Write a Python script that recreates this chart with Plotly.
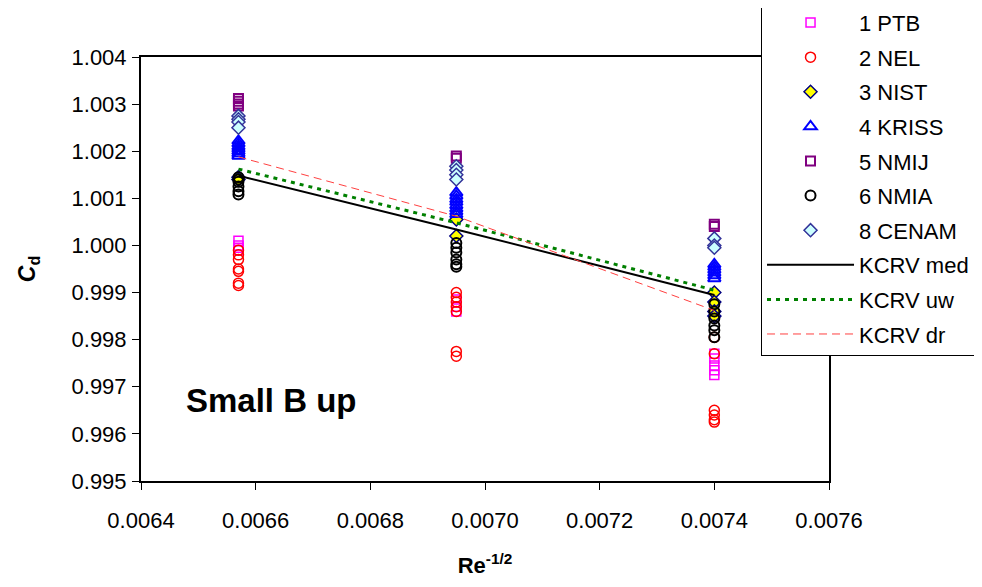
import plotly.graph_objects as go

# x positions (Re^-1/2) of the three flow points
x_pts = [0.00657, 0.00695, 0.00740]

# Cd values read per lab, per flow point
ptb = [[1.00010, 1.00000, 0.99995, 0.99990],
       [0.99885, 0.99870, 0.99860],
       [0.99770, 0.99760, 0.99745, 0.99735, 0.99725]]
nel = [[0.99990, 0.99980, 0.99970, 0.99950, 0.99945, 0.99920, 0.99915],
       [0.99900, 0.99890, 0.99880, 0.99870, 0.99860, 0.99775, 0.99765],
       [0.99805, 0.99770, 0.99650, 0.99640, 0.99630, 0.99625]]
nist = [[1.00145, 1.00140],
        [1.00055, 1.00020],
        [0.99900, 0.99880, 0.99860, 0.99850]]
kriss = [[1.00222, 1.00216, 1.00210, 1.00205, 1.00200, 1.00195, 1.00190],
         [1.00112, 1.00105, 1.00098, 1.00092, 1.00085, 1.00078, 1.00072, 1.00066],
         [0.99960, 0.99954, 0.99948, 0.99942, 0.99936, 0.99930]]
nmij = [[1.00312, 1.00306, 1.00300, 1.00296],
        [1.00190, 1.00185],
        [1.00045, 1.00040]]
nmia = [[1.00145, 1.00140, 1.00135, 1.00125, 1.00115, 1.00108],
        [1.00005, 0.99995, 0.99985, 0.99970, 0.99960, 0.99955],
        [0.99875, 0.99860, 0.99845, 0.99830, 0.99820, 0.99805]]
cenam = [[1.00275, 1.00268, 1.00262, 1.00250],
         [1.00168, 1.00160, 1.00150, 1.00140],
         [1.00015, 1.00000, 0.99995]]

kcrv_med = [1.00148, 1.00034, 0.99895]
kcrv_uw = [1.00162, 1.00048, 0.99905]
kcrv_dr = [1.00188, 1.00062, 0.99862]

x_ticks = [0.0064, 0.0066, 0.0068, 0.0070, 0.0072, 0.0074, 0.0076]
y_ticks = [0.995, 0.996, 0.997, 0.998, 0.999, 1.000, 1.001, 1.002, 1.003, 1.004]


def flat(groups):
    xs, ys = [], []
    for xv, g in zip(x_pts, groups):
        for v in g:
            xs.append(xv)
            ys.append(v)
    return xs, ys


labs = [
    ("1 PTB", ptb, dict(symbol="square-open", color="#FF00FF", size=9, line=dict(width=1.5, color="#FF00FF"))),
    ("2 NEL", nel, dict(symbol="circle-open", color="#FF0000", size=10, line=dict(width=1.5, color="#FF0000"))),
    ("3 NIST", nist, dict(symbol="diamond", color="#FFFF00", size=10, line=dict(width=1.5, color="#000080"))),
    ("4 KRISS", kriss, dict(symbol="triangle-up-open", color="#0000FF", size=11, line=dict(width=2, color="#0000FF"))),
    ("5 NMIJ", nmij, dict(symbol="square-open", color="#800080", size=9, line=dict(width=2, color="#800080"))),
    ("6 NMIA", nmia, dict(symbol="circle-open", color="#000000", size=10, line=dict(width=2, color="#000000"))),
    ("8 CENAM", cenam, dict(symbol="diamond", color="#CCFFFF", size=10, line=dict(width=1.5, color="#333399"))),
]

fig = go.Figure()
for i, (name, groups, mk) in enumerate(labs):
    xs, ys = flat(groups)
    fig.add_trace(go.Scatter(x=xs, y=ys, mode="markers", name=name, marker=mk,
                             legendgroup=f"g{i}"))

fig.add_trace(go.Scatter(x=x_pts, y=kcrv_med, mode="lines", name="KCRV med", legendgroup="g7",
                         line=dict(color="#000000", width=2)))
fig.add_trace(go.Scatter(x=x_pts, y=kcrv_uw, mode="lines", name="KCRV uw", legendgroup="g8",
                         line=dict(color="#008000", width=3, dash="4px,5px")))
fig.add_trace(go.Scatter(x=x_pts, y=kcrv_dr, mode="lines", name="KCRV dr", legendgroup="g9",
                         line=dict(color="#FF4040", width=1, dash="8px,5px")))

font_family = "Liberation Sans, Arial, sans-serif"

fig.add_annotation(x=0.006628, y=0.99671, xref="x", yref="y", text="<b>Small B up</b>",
                   showarrow=False, font=dict(family=font_family, size=33, color="#000000"))

# page body has an 8px margin: figure is sized/offset to compensate
fig.update_layout(
    width=974, height=579,
    paper_bgcolor="white", plot_bgcolor="white",
    margin=dict(l=133, r=153, t=49, b=106, autoexpand=False),
    font=dict(family=font_family, color="#000000"),
    showlegend=True,
    legend=dict(x=0.9012, y=1.1326, xanchor="left", yanchor="top",
                bgcolor="white", bordercolor="#000000", borderwidth=1,
                font=dict(family=font_family, size=22, color="#000000"),
                tracegroupgap=3, itemwidth=87, traceorder="grouped",
                maxheight=500),
    xaxis=dict(range=[0.0064, 0.0076], tickvals=x_ticks, tickformat=".4f",
               showgrid=False, zeroline=False, showline=True, linecolor="#000000", linewidth=2,
               mirror=True, ticks="outside", ticklen=7, tickcolor="#000000",
               ticklabelstandoff=12,
               tickfont=dict(family=font_family, size=22),
               title=dict(text="<b>Re<sup>-1/2</sup></b>", font=dict(family=font_family, size=22), standoff=25)),
    yaxis=dict(range=[0.995, 1.004], tickvals=y_ticks, tickformat=".3f",
               showgrid=False, zeroline=False, showline=True, linecolor="#000000", linewidth=2,
               mirror=True, ticks="outside", ticklen=7, tickcolor="#000000",
               ticklabelstandoff=1,
               tickfont=dict(family=font_family, size=22),
               title=dict(text="<b><i>C</i><sub>d</sub></b>", font=dict(family=font_family, size=23), standoff=29)),
)

fig.write_html("out.html")
